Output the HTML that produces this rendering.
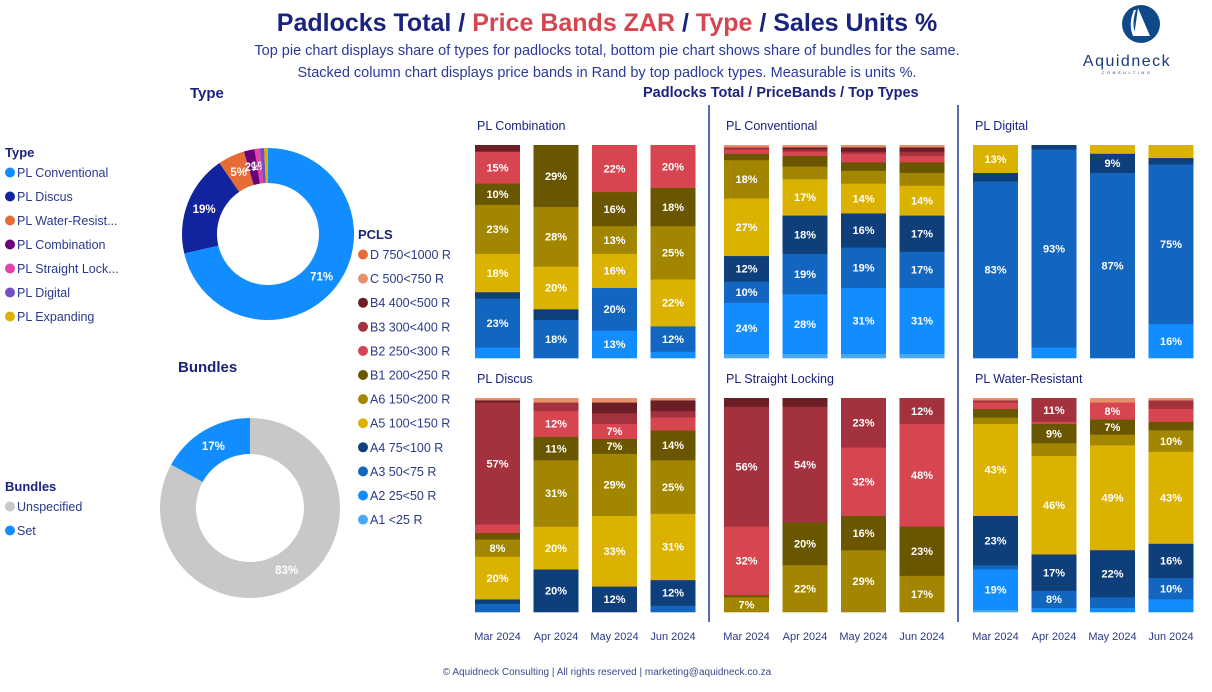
<!DOCTYPE html>
<html><head><meta charset="utf-8">
<style>
html,body{margin:0;padding:0;background:#fff;}
svg{display:block;font-family:"Liberation Sans",sans-serif;}
</style></head>
<body>
<svg id="root" width="1212" height="692" viewBox="0 0 1212 692" xmlns="http://www.w3.org/2000/svg">
<text x="607" y="31" text-anchor="middle" font-size="25" font-weight="bold"><tspan fill="#1a237e">Padlocks Total / </tspan><tspan fill="#d64550">Price Bands ZAR</tspan><tspan fill="#1a237e"> / </tspan><tspan fill="#d64550">Type</tspan><tspan fill="#1a237e"> / Sales Units %</tspan></text>
<text x="607" y="55" text-anchor="middle" font-size="14.5" fill="#2a3a9a">Top pie chart displays share of types for padlocks total, bottom pie chart shows share of bundles for the same.</text>
<text x="607" y="77" text-anchor="middle" font-size="14.5" fill="#2a3a9a">Stacked column chart displays price bands in Rand by top padlock types. Measurable is units %.</text>
<text x="190" y="98" font-size="15" font-weight="bold" fill="#1a237e">Type</text>
<text x="178" y="372" font-size="15" font-weight="bold" fill="#1a237e">Bundles</text>
<text x="643" y="97" font-size="14.5" font-weight="bold" fill="#1a237e">Padlocks Total / PriceBands / Top Types</text>
<g>
<circle cx="1141" cy="24" r="19" fill="#0e4a8a"/>
<path d="M1138 8 L1134 36 L1150 36 Z" fill="#fff"/>
<path d="M1134 10 Q1128 24 1133 36 L1136 36 Q1131 24 1136 10 Z" fill="#fff"/>
<text x="1127" y="66" text-anchor="middle" font-size="16" fill="#1a3a7a" letter-spacing="1.5">Aquidneck</text>
<text x="1127" y="74" text-anchor="middle" font-size="4" fill="#1a3a7a" letter-spacing="2.5">CONSULTING</text>
</g>
<line x1="709" y1="105" x2="709" y2="622" stroke="#5a6bb5" stroke-width="2"/>
<line x1="958" y1="105" x2="958" y2="622" stroke="#5a6bb5" stroke-width="2"/>
<text x="607" y="675" text-anchor="middle" font-size="10" fill="#3a4a8a">© Aquidneck Consulting  | All rights reserved | marketing@aquidneck.co.za</text>
<g id="legends"></g>
<g id="donuts"></g>
<g id="panels"></g>
</svg>
<script>
const NS='http://www.w3.org/2000/svg';
const months=['Mar 2024','Apr 2024','May 2024','Jun 2024'];
const bands=['A1','A2','A3','A4','A5','A6','B1','B2','B3','B4','C','D'];
const bandLabels=['A1 <25 R','A2 25<50 R','A3 50<75 R','A4 75<100 R','A5 100<150 R','A6 150<200 R','B1 200<250 R','B2 250<300 R','B3 300<400 R','B4 400<500 R','C 500<750 R','D 750<1000 R'];
const bandColors=['#4aa8f0','#118dff','#1366c0','#0e3f7a','#dcb200','#a38600','#6b5600','#d64550','#a3323e','#6b1e25','#e8906a','#e66c37'];
const panelTitles=['PL Combination','PL Conventional','PL Digital','PL Discus','PL Straight Locking','PL Water-Resistant'];
const combination=[[0,5,23,3,18,23,10,15,0,3,0,0],[0,0,18,5,20,28,29,0,0,0,0,0],[0,13,20,0,16,13,16,22,0,0,0,0],[0,3,12,0,22,25,18,20,0,0,0,0]];
const conventional=[[2,24,10,12,27,18,3,2,1,0,1,0],[2,28,19,18,17,6,5,2,1,1,1,0],[2,31,19,16,14,6,4,4,1,2,1,0],[2,31,17,17,14,6,5,3,2,2,1,0]];
const digital=[[0,0,83,4,13,0,0,0,0,0,0,0],[0,5,93,2,0,0,0,0,0,0,0,0],[0,0,87,9,4,0,0,0,0,0,0,0],[0,16,75,3,6,0,0,0,0,0,0,0]];
const discus=[[0,0,4,2,20,8,3,4,57,1,1,0],[0,0,0,20,20,31,11,12,4,0,2,0],[0,0,0,12,33,29,7,7,5,5,2,0],[0,0,3,12,31,25,14,6,3,5,1,0]];
const straight=[[0,0,0,0,0,7,1,32,56,4,0,0],[0,0,0,0,0,22,20,0,54,4,0,0],[0,0,0,0,0,29,16,32,23,0,0,0],[0,0,0,0,0,17,23,48,12,0,0,0]];
const water=[[1,19,2,23,43,3,4,3,1,0,1,0],[0,2,8,17,46,6,9,1,11,0,0,0],[0,2,5,22,49,5,7,8,0,0,2,0],[0,6,10,16,43,10,4,6,4,0,1,0]];
const panelData=[combination,conventional,digital,discus,straight,water];
const typeNames=['PL Conventional','PL Discus','PL Water-Resist...','PL Combination','PL Straight Lock...','PL Digital','PL Expanding'];
const typeValues=[71,19,5,2,1,0.8,0.7];
const typeColors=['#118dff','#12239e','#e66c37','#6b007b','#e044a7','#744ec2','#d9b300'];
const bundleNames=['Unspecified','Set'];
const bundleValues=[83,17];
const bundleColors=['#c8c8c8','#118dff'];

function mk(tag,attrs,parent){const e=document.createElementNS(NS,tag);for(const k in attrs)e.setAttribute(k,attrs[k]);parent.appendChild(e);return e;}
const legends=document.getElementById('legends');
function legend(title,x,y,names,colors,step,nm){
  const g=mk('g',{},legends);
  
  
  const t=mk('text',{x:x,y:y,'font-size':13,'font-weight':'bold',fill:'#1a237e'},g);t.textContent=title;
  
  
  names.forEach((n,i)=>{
    const gi=mk('g',{},g);
    
    
    const yy=y+20+i*step;
    mk('circle',{cx:x+5,cy:yy-4.5,r:5,fill:colors[i]},gi);
    const tx=mk('text',{x:x+12,y:yy,'font-size':12.5,fill:'#2a3a8a'},gi);tx.textContent=n;
  });
}
legend('Type',5,157,typeNames,typeColors,24,'type-legend');
legend('PCLS',358,239,bandLabels.slice().reverse(),bandColors.slice().reverse(),24.1,'pcls-legend');
legend('Bundles',5,491,bundleNames,bundleColors,24,'bundles-legend');

const donuts=document.getElementById('donuts');
function donut(cx,cy,ro,ri,vals,cols,names,nm,startFrac){
  const g=mk('g',{},donuts);
  
  
  const tot=vals.reduce((a,b)=>a+b,0);let acc=startFrac*tot;
  vals.forEach((v,i)=>{
    const a0=acc/tot*2*Math.PI-Math.PI/2, a1=(acc+v)/tot*2*Math.PI-Math.PI/2; acc+=v;
    const lg=(a1-a0)>Math.PI?1:0;
    const p=`M${cx+ro*Math.cos(a0)} ${cy+ro*Math.sin(a0)} A${ro} ${ro} 0 ${lg} 1 ${cx+ro*Math.cos(a1)} ${cy+ro*Math.sin(a1)} L${cx+ri*Math.cos(a1)} ${cy+ri*Math.sin(a1)} A${ri} ${ri} 0 ${lg} 0 ${cx+ri*Math.cos(a0)} ${cy+ri*Math.sin(a0)} Z`;
    const s=mk('path',{d:p,fill:cols[i]},g);
    
    
    if(v>=1){
      const am=(a0+a1)/2, rm=(ro+ri)/2;
      const lab=mk('text',{x:cx+rm*Math.cos(am),y:cy+rm*Math.sin(am)+4,'text-anchor':'middle','font-size':11.5,'font-weight':'bold',fill:'#fff'},g);
      lab.textContent=Math.round(v)+'%';
      
      
    }
  });
}
donut(268,234,86,51,typeValues,typeColors,typeNames,'type-donut',0);
donut(250,508,90,54,bundleValues,bundleColors,bundleNames,'bundles-donut',0);

const panels=document.getElementById('panels');
panelData.forEach((data,p)=>{
  const c=p%3, r=Math.floor(p/3);
  const g=mk('g',{},panels);
  
  
  const top=r?398:145, h=r?214:213, x0=475+c*249;
  const tt=mk('text',{x:x0+2,y:top-15,'font-size':12.5,fill:'#1a237e'},g);tt.textContent=panelTitles[p];
  
  
  const yScale=v=>h*v/100;
  data.forEach((vals,m)=>{
    const bx=x0+m*58.5, tot=vals.reduce((a,b)=>a+b,0);
    let y=top+h;
    vals.forEach((v,b)=>{
      if(!v)return;
      const hh=yScale(v*100/tot); y-=hh;
      const rc=mk('rect',{x:bx,y:y,width:45,height:hh+0.3,fill:bandColors[b]},g);
      
      
      if(v>=7){
        const lb=mk('text',{x:bx+22.5,y:y+hh/2+4,'text-anchor':'middle','font-size':11,'font-weight':'bold',fill:'#fff'},g);
        lb.textContent=v+'%';
        
        
      }
    });
    const xl=mk('text',{x:bx+22.5,y:r?640:388,'text-anchor':'middle','font-size':11,fill:'#2a3a8a'},g);
    xl.textContent=r?months[m]:'';
    
    
  });
});
</script>
</body></html>
